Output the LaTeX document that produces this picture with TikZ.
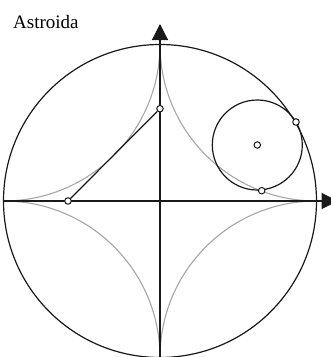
\documentclass[tikz,border=0pt]{standalone}
\usepackage{fontspec}
\setmainfont{Liberation Serif}
\usetikzlibrary{arrows.meta}
\definecolor{inkc}{RGB}{25,25,25}
\definecolor{arcc}{RGB}{165,165,165}
\tikzset{
  axis/.style={draw=inkc, line width=1.2pt, -{Triangle[length=16pt,width=16pt]}},
  ring/.style={draw=inkc, line width=1.2pt},
  cusp/.style={draw=arcc, line width=1.1pt},
  rod/.style={draw=inkc, line width=1.2pt},
  dot/.style={circle, draw=inkc, fill=white, line width=1pt, inner sep=0pt, minimum size=6.5pt},
  title/.style={anchor=base west, inner sep=0pt, font=\fontsize{19}{22}\selectfont}
}

\begin{document}
\begin{tikzpicture}[x=1pt, y=1pt]
  \useasboundingbox (-160,-156) rectangle (171,201);
  \def\R{156.5}

  % the four arcs of the astroid
  \draw[cusp] (-\R,0) arc[start angle=-90, end angle=0, radius=\R];
  \draw[cusp] (0,\R) arc[start angle=180, end angle=270, radius=\R];
  \draw[cusp] (\R,0) arc[start angle=90, end angle=180, radius=\R];
  \draw[cusp] (0,-\R) arc[start angle=0, end angle=90, radius=\R];

  \coordinate (O) at (0,0);
  \coordinate (xs) at (-\R,0);
  \coordinate (xe) at (177.7,0);
  \coordinate (ys) at (0,-158);
  \coordinate (ye) at (0,177);
  \draw[axis] (xs) -- (xe);
  \draw[axis] (ys) -- (ye);

  \draw[ring] (O) circle[radius=\R];
  \draw[ring] (97.3,56) circle[radius=45];

  \node[dot] (top) at (0,92.3) {};
  \node[dot] (foot) at (-92,0) {};
  \node[dot] (mid) at (97.3,56) {};
  \node[dot] (touch) at (136,79) {};
  \node[dot] (low) at (101.7,10.3) {};

  \draw[rod] (foot) -- (top);

  \node[title] (name) at (-147,173) {Astroida};
\end{tikzpicture}
\end{document}
